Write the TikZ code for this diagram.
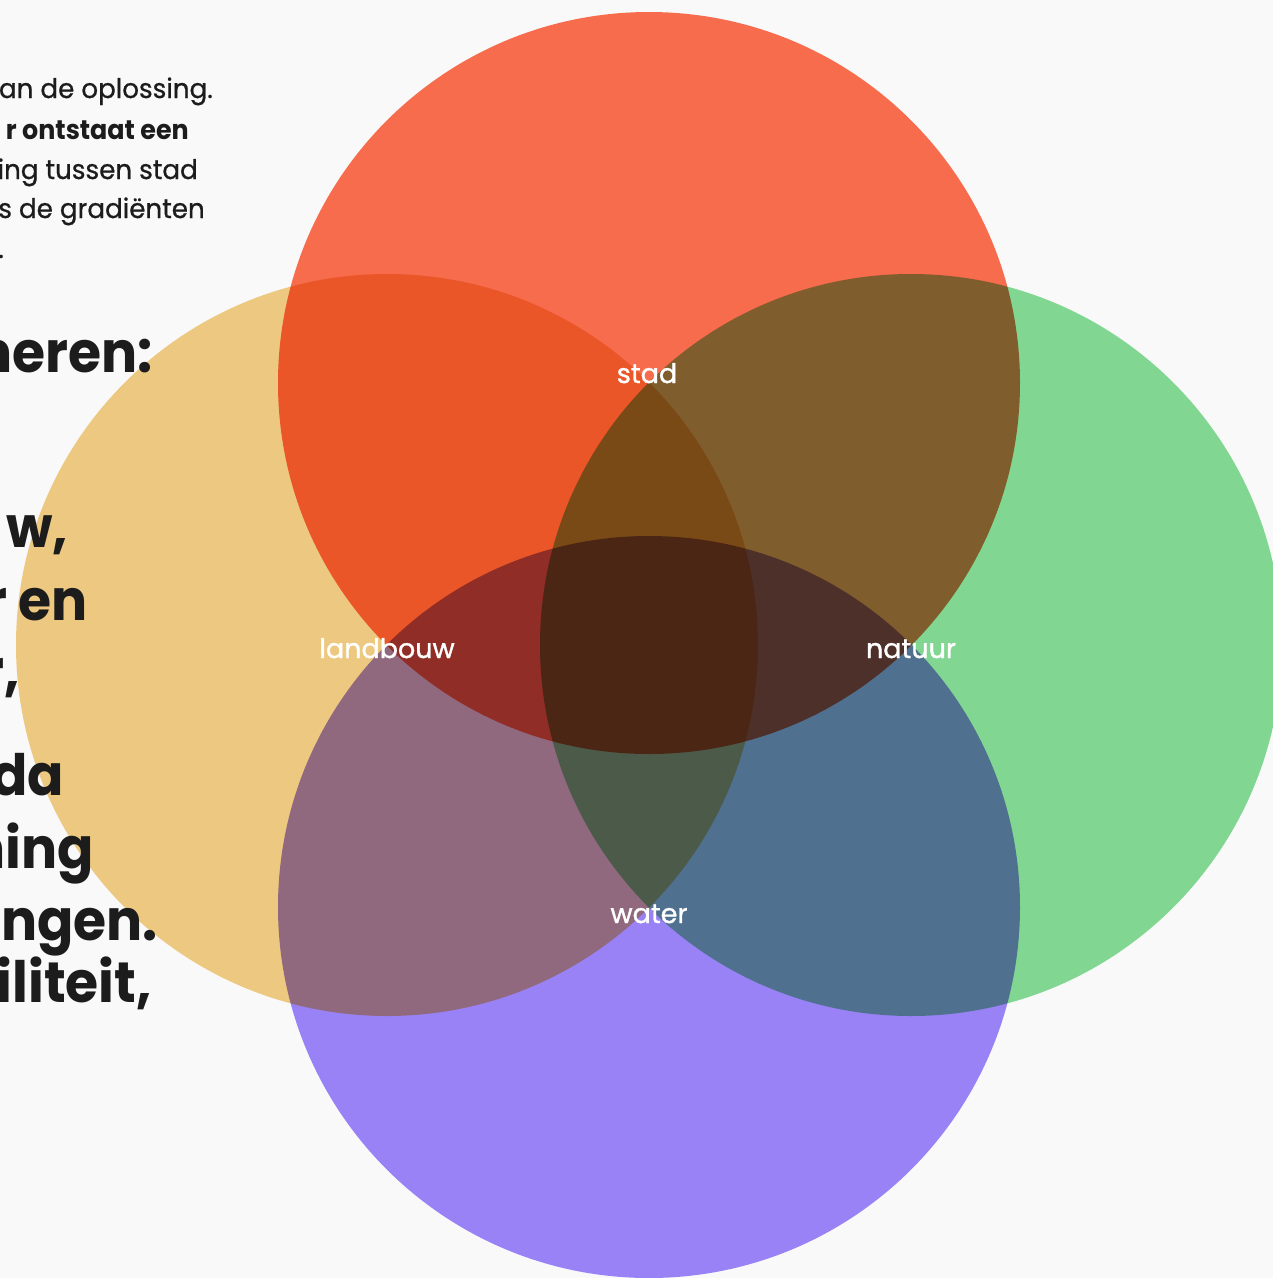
\documentclass[tikz,border=0pt]{standalone}
\usepackage{fontspec}
\setmainfont{Poppins}
\newfontfamily\labelfont{Poppins}[FakeBold=1.2]
\newfontfamily\smallfont{Poppins}[FakeStretch=0.97, FakeBold=0.7]
\newfontfamily\narrowfont{Poppins}[FakeStretch=0.94]
\definecolor{bgc}{HTML}{F9F9F9}
\definecolor{cstad}{HTML}{FC6F4E}
\definecolor{cland}{HTML}{F3CD85}
\definecolor{cnat}{HTML}{85DD96}
\definecolor{cwat}{HTML}{9D86FB}
\definecolor{ink}{HTML}{1C1C1C}
\tikzset{
  venn/.style={circle, draw=none, inner sep=0pt, minimum size=742pt},
  lbl/.style={text=white, inner sep=0pt, anchor=base, font=\labelfont\fontsize{27}{31}\selectfont},
  small/.style={text=ink, inner sep=0pt, anchor=base east, font=\smallfont\fontsize{27}{32}\selectfont},
  big/.style={text=ink, inner sep=0pt, anchor=base east, font=\narrowfont\bfseries\fontsize{57}{64}\selectfont},
}
\begin{document}
\begin{tikzpicture}[x=1pt,y=-1pt]
\useasboundingbox (0,0) rectangle (1273,1278);
\clip (0,0) rectangle (1273,1278);
\fill[bgc] (0,0) rectangle (1273,1278);
% circles, multiplied over each other
\begin{scope}[blend mode=multiply]
  \node[venn, fill=cstad] (top) at (649,383) {};
  \node[venn, fill=cland] (left) at (387,645) {};
  \node[venn, fill=cnat] (right) at (911,645) {};
  \node[venn, fill=cwat] (bottom) at (649,907) {};
\end{scope}
% labels
\node[lbl] (lstad) at (647,383) {stad};
\node[lbl] (lland) at (387,658) {landbouw};
\node[lbl] (lnat) at (911,658) {natuur};
\node[lbl] (lwat) at (649,923) {water};
% background text (cut off at the left edge)
\node[small] (t1) at (213,98) {an de oplossing.};
\node[small, font=\narrowfont\bfseries\fontsize{27}{32}\selectfont] (t2) at (189,139) {r ontstaat een};
\node[small] (t3) at (198,179) {ing tussen stad};
\node[small] (t4) at (205,218) {s de gradiënten};
\node[small] (t5) at (4,258) {.};
\node[big] (b1) at (153,372) {neren:};
\node[big] (b2) at (68,547) {w,};
\node[big] (b3) at (88,620) {r en};
\node[big] (b4) at (20,690) {r,};
\node[big] (b5) at (64,795) {da};
\node[big] (b6) at (94,868) {ning};
\node[big] (b7) at (158,940) {ngen.};
\node[big] (b8) at (152,1002) {iliteit,};
\end{tikzpicture}
\end{document}
